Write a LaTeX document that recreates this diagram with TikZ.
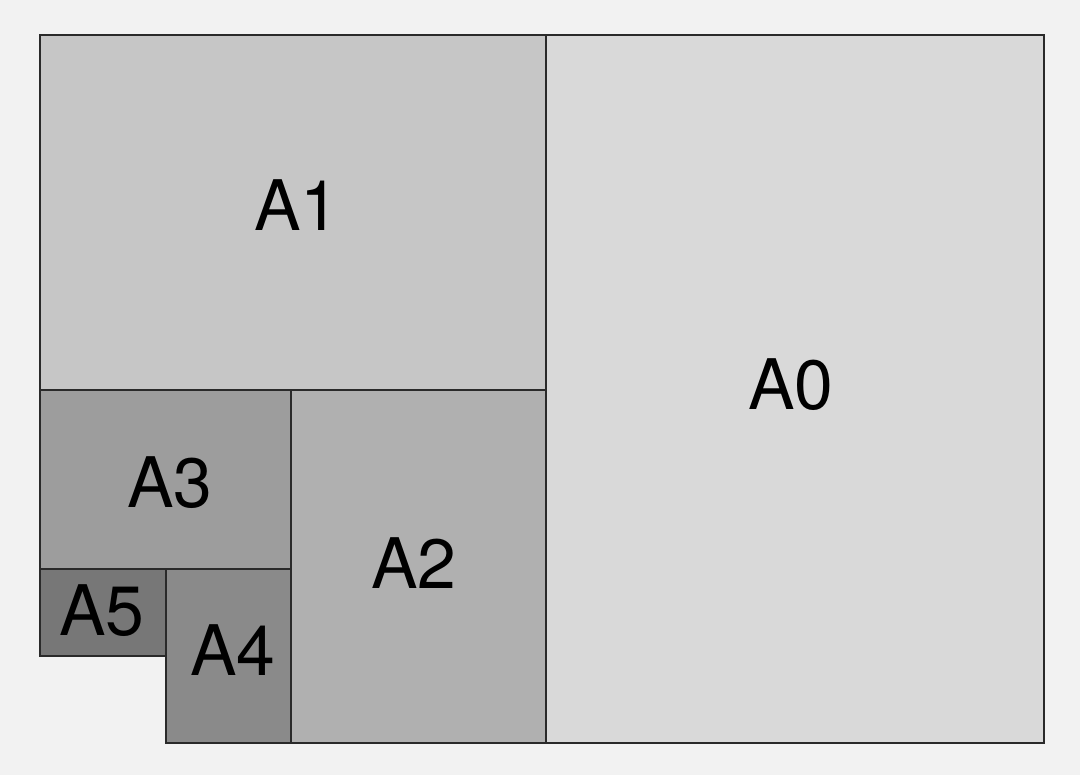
\documentclass[tikz,border=0pt]{standalone}
\usepackage{fontspec}
\setmainfont{TeX Gyre Heros}
\definecolor{bgc}{HTML}{F2F2F2}
\definecolor{ca0}{HTML}{D9D9D9}
\definecolor{ca1}{HTML}{C6C6C6}
\definecolor{ca2}{HTML}{B0B0B0}
\definecolor{ca3}{HTML}{9D9D9D}
\definecolor{ca4}{HTML}{8A8A8A}
\definecolor{ca5}{HTML}{777777}
\definecolor{edge}{HTML}{2A2A2A}
\begin{document}
\begin{tikzpicture}[x=1bp,y=-1bp,
  sheet/.style={draw=edge,line width=2.8bp},
  lbl/.style={font=\fontsize{70}{70}\selectfont,text=black,inner sep=0pt}]
\fill[bgc] (0,0) rectangle (1080,775);
\useasboundingbox (0,0) rectangle (1080,775);
\filldraw[sheet,fill=ca0] (546,35) rectangle (1044,743);
\filldraw[sheet,fill=ca1] (40,35) rectangle (546,390);
\filldraw[sheet,fill=ca2] (291,390) rectangle (546,743);
\filldraw[sheet,fill=ca3] (40,390) rectangle (291,569);
\filldraw[sheet,fill=ca4] (166,569) rectangle (291,743);
\filldraw[sheet,fill=ca5] (40,569) rectangle (166,656);
\node[lbl] (a0) at (791,385) {A0};
\node[lbl] (a1) at (297,205) {A1};
\node[lbl] (a2) at (414,563) {A2};
\node[lbl] (a3) at (170,483) {A3};
\node[lbl] (a4) at (233,650) {A4};
\node[lbl] (a5) at (102,611) {A5};
\end{tikzpicture}
\end{document}
